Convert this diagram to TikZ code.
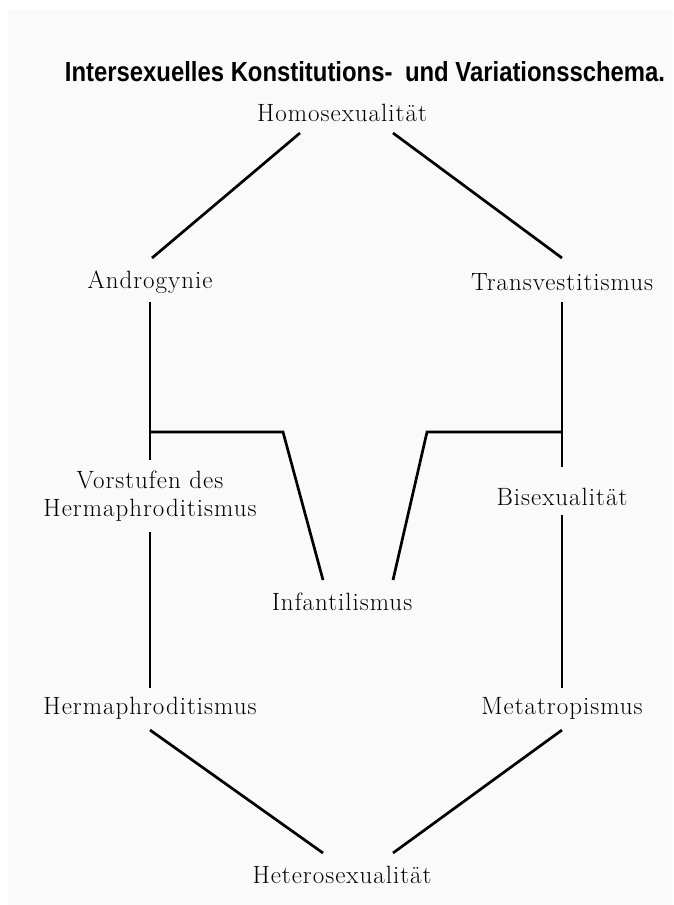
\documentclass[tikz,border=0pt]{standalone}
\usepackage{fontspec}
\usepackage{graphicx}
\usetikzlibrary{calc}
\newfontfamily\titlefont{Liberation Sans}
\newfontfamily\lblfont[LetterSpace=4]{Latin Modern Roman}
\begin{document}
\begin{tikzpicture}[x=1pt, y=-1pt, line width=2.7pt,
  lbl/.style={font=\lblfont\fontsize{25}{28}\selectfont, inner sep=0pt, align=center}]
\useasboundingbox (0,0) rectangle (673,905);
\fill[black!2] (8,10) rectangle (673,905);

\node[inner sep=0pt] (title) at (365,72){\titlefont\bfseries\resizebox{600pt}{20pt}{Intersexuelles Konstitutions-\hspace{0.25em} und Variationsschema.}};

\node[lbl] (homo) at (342,113){Homosexualität};
\node[lbl] (andro) at (150,282){Androgynie};
\node[lbl] (transv) at (562,282){Transvestitismus};
\node[lbl] (vorst) at (150,496){Vorstufen des\\Hermaphroditismus};
\node[lbl] (bisex) at (562,497){Bisexualität};
\node[lbl] (infant) at (342,602){Infantilismus};
\node[lbl] (herma) at (150,708){Hermaphroditismus};
\node[lbl] (metatr) at (562,708){Metatropismus};
\node[lbl] (hetero) at (342,875){Heterosexualität};

% upper rhombus half
\draw ($(homo)+(-42,20)$) -- ($(andro)+(2,-24)$);
\draw ($(homo)+(51,20)$) -- ($(transv)+(0,-24)$);

% sides with branches to Infantilismus
\draw ($(andro)+(0,20)$) -- ($(vorst)+(0,-36)$);
\draw ($(andro)+(0,150)$) -- ($(andro)+(133,150)$) -- ($(infant)+(-19,-22)$);
\draw ($(transv)+(0,20)$) -- ($(bisex)+(0,-30)$);
\draw ($(transv)+(0,150)$) -- ($(transv)+(-135,150)$) -- ($(infant)+(51,-22)$);

\draw ($(vorst)+(0,36)$) -- ($(herma)+(0,-20)$);
\draw ($(bisex)+(0,18)$) -- ($(metatr)+(0,-20)$);

% lower half
\draw ($(herma)+(0,22)$) -- ($(hetero)+(-19,-22)$);
\draw ($(metatr)+(0,22)$) -- ($(hetero)+(51,-22)$);
\end{tikzpicture}
\end{document}
